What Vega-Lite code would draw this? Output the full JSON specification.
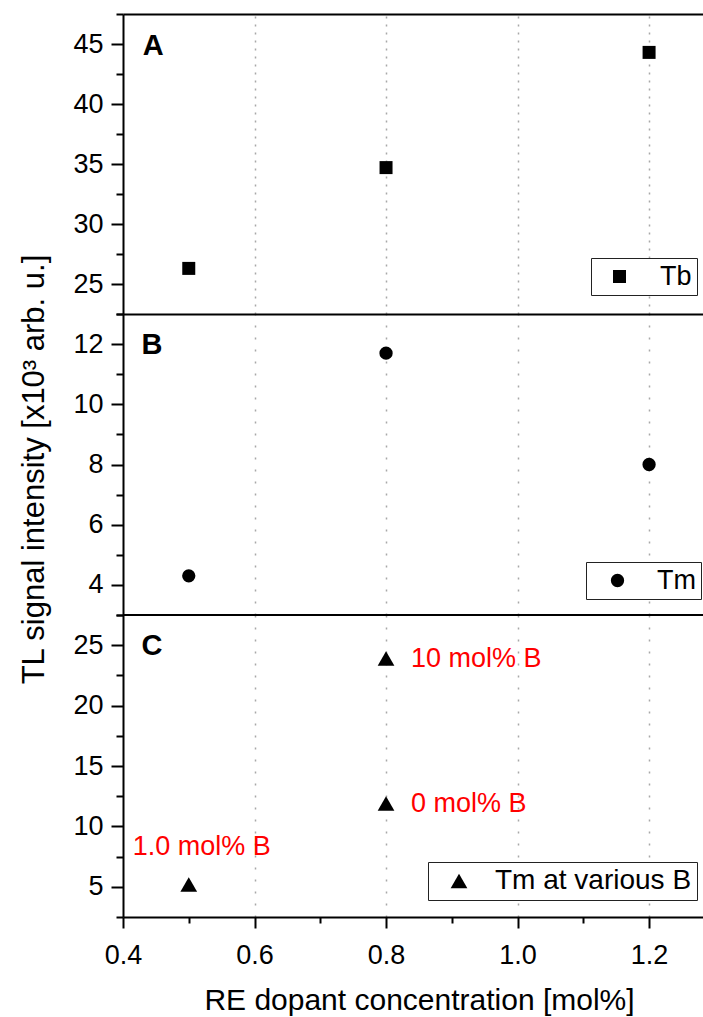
{
  "$schema": "https://vega.github.io/schema/vega-lite/v6.json",
  "padding": {"left": 18, "top": 0, "right": 0, "bottom": 4},
  "background": "white",
  "config": {
    "font": "Liberation Sans",
    "view": {"stroke": null},
    "axis": {
      "domainColor": "black",
      "domainWidth": 2,
      "tickColor": "black",
      "tickWidth": 2,
      "labelColor": "black",
      "labelFontSize": 27,
      "labelFont": "Liberation Sans",
      "labelOverlap": false,
      "labelFlush": false,
      "titleColor": "black",
      "titleFontWeight": "normal",
      "titleFont": "Liberation Sans",
      "gridColor": "#a8a8a8",
      "gridWidth": 1.5
    },
    "legend": {
      "orient": "none",
      "strokeColor": "#222222",
      "fillColor": "white",
      "padding": 5,
      "cornerRadius": 0,
      "labelFontSize": 27,
      "labelLimit": 0,
      "labelColor": "black",
      "labelFont": "Liberation Sans",
      "symbolFillColor": "black",
      "symbolStrokeWidth": 0,
      "symbolStrokeColor": "black"
    }
  },
  "datasets": {
    "pts": [
      {"panel": "A", "series": "Tb", "re": 0.5, "tl": 26.3},
      {"panel": "A", "series": "Tb", "re": 0.8, "tl": 34.7},
      {"panel": "A", "series": "Tb", "re": 1.2, "tl": 44.3},
      {"panel": "B", "series": "Tm", "re": 0.5, "tl": 4.3},
      {"panel": "B", "series": "Tm", "re": 0.8, "tl": 11.7},
      {"panel": "B", "series": "Tm", "re": 1.2, "tl": 8.0},
      {"panel": "C", "series": "Tm at various B", "re": 0.5, "tl": 5.2, "label": "1.0 mol% B"},
      {"panel": "C", "series": "Tm at various B", "re": 0.8, "tl": 23.9, "label": "10 mol% B"},
      {"panel": "C", "series": "Tm at various B", "re": 0.8, "tl": 11.9, "label": "0 mol% B"}
    ]
  },
  "spacing": 0,
  "bounds": "flush",
  "resolve": {
    "scale": {"x": "independent", "y": "independent", "shape": "independent"},
    "legend": {"shape": "independent"}
  },
  "vconcat": [
    {
      "width": 580,
      "height": 300,
      "layer": [
        {
          "data": {"name": "pts"},
          "transform": [{"filter": "datum.panel === 'A'"}],
          "mark": {"type": "point", "filled": true, "opacity": 1, "color": "black", "size": 169, "strokeWidth": 0},
          "encoding": {
            "x": {
              "field": "re", "type": "quantitative",
              "scale": {"domain": [0.4, 1.282], "nice": false, "zero": false},
              "axis": {"orient": "top", "title": null, "ticks": false, "labels": false, "tickCount": 20, "values": [0.6, 0.8, 1.0, 1.2], "grid": true, "gridDash": [2, 6]}
            },
            "y": {
              "field": "tl", "type": "quantitative",
              "scale": {"domain": [22.5, 47.5], "nice": false, "zero": false},
              "axis": {
                "title": null,
                "grid": false,
                "tickCount": 40,
                "format": "d",
                "values": [22.5, 25, 27.5, 30, 32.5, 35, 37.5, 40, 42.5, 45, 47.5],
                "labelExpr": "datum.value % 5 === 0 ? datum.label : ''",
                "tickSize": {"condition": {"test": "datum.value % 5 === 0", "value": 12}, "value": 7},
                "labelPadding": 8
              }
            },
            "shape": {
              "field": "series", "type": "nominal",
              "scale": {"range": ["square"]},
              "legend": {"title": null, "legendX": 468, "legendY": 244, "symbolSize": 169, "symbolOffset": 10, "labelOffset": 27}
            }
          }
        },
        {
          "data": {"values": [{"letter": "A"}]},
          "mark": {"type": "text", "align": "left", "baseline": "middle", "fontSize": 29, "fontWeight": "bold", "color": "black"},
          "encoding": {"x": {"datum": 0.43}, "y": {"datum": 44.85}, "text": {"field": "letter"}}
        }
      ]
    },
    {
      "width": 580,
      "height": 301,
      "layer": [
        {
          "data": {"name": "pts"},
          "transform": [{"filter": "datum.panel === 'B'"}],
          "mark": {"type": "point", "shape": "circle", "filled": true, "opacity": 1, "color": "black", "size": 177, "strokeWidth": 0},
          "encoding": {
            "x": {
              "field": "re", "type": "quantitative",
              "scale": {"domain": [0.4, 1.282], "nice": false, "zero": false},
              "axis": {"orient": "top", "title": null, "ticks": false, "labels": false, "tickCount": 20, "values": [0.6, 0.8, 1.0, 1.2], "grid": true, "gridDash": [2, 10]}
            },
            "y": {
              "field": "tl", "type": "quantitative",
              "scale": {"domain": [3, 13], "nice": false, "zero": false},
              "axis": {
                "title": "TL signal intensity [x10³ arb. u.]",
                "titleFontSize": 31,
                "titlePadding": 22,
                "titleY": 155,
                "grid": false,
                "tickCount": 40,
                "format": "d",
                "values": [3, 4, 5, 6, 7, 8, 9, 10, 11, 12, 13],
                "labelExpr": "datum.value % 2 === 0 ? datum.label : ''",
                "tickSize": {"condition": {"test": "datum.value % 2 === 0", "value": 12}, "value": 7},
                "labelPadding": 8
              }
            },
            "shape": {
              "field": "series", "type": "nominal",
              "scale": {"range": ["circle"]},
              "legend": {"title": null, "legendX": 463, "legendY": 248, "symbolSize": 177, "symbolOffset": 13, "labelOffset": 26}
            }
          }
        },
        {
          "data": {"values": [{"letter": "B"}]},
          "mark": {"type": "text", "align": "left", "baseline": "middle", "fontSize": 29, "fontWeight": "bold", "color": "black"},
          "encoding": {"x": {"datum": 0.428}, "y": {"datum": 11.98}, "text": {"field": "letter"}}
        }
      ]
    },
    {
      "width": 580,
      "height": 302,
      "layer": [
        {
          "data": {"values": [{"edge": "top"}]},
          "mark": {"type": "rule", "color": "black", "strokeWidth": 2},
          "encoding": {"y": {"datum": 27.5}}
        },
        {
          "data": {"name": "pts"},
          "transform": [{"filter": "datum.panel === 'C'"}],
          "mark": {"type": "point", "filled": true, "opacity": 1, "color": "black", "size": 280, "strokeWidth": 0},
          "encoding": {
            "x": {
              "field": "re", "type": "quantitative",
              "scale": {"domain": [0.4, 1.282], "nice": false, "zero": false},
              "axis": {
                "orient": "bottom",
                "title": "RE dopant concentration [mol%]",
                "titleFontSize": 30,
                "titlePadding": 17,
                "titleX": 296,
                "tickCount": 40,
                "values": [0.4, 0.5, 0.6, 0.7, 0.8, 0.9, 1.0, 1.1, 1.2],
                "format": ".1f",
                "labelExpr": "round(datum.value * 10) % 2 === 0 ? datum.label : ''",
                "tickSize": {"condition": {"test": "round(datum.value * 10) % 2 === 0", "value": 11}, "value": 6},
                "labelPadding": 14,
                "grid": true,
                "gridDash": [2, 10],
                "gridOpacity": {"condition": {"test": "round(datum.value * 10) % 2 === 0 && datum.value > 0.5", "value": 1}, "value": 0}
              }
            },
            "y": {
              "field": "tl", "type": "quantitative",
              "scale": {"domain": [2.5, 27.5], "nice": false, "zero": false},
              "axis": {
                "title": null,
                "grid": false,
                "tickCount": 40,
                "format": "d",
                "values": [2.5, 5, 7.5, 10, 12.5, 15, 17.5, 20, 22.5, 25, 27.5],
                "labelExpr": "datum.value % 5 === 0 ? datum.label : ''",
                "tickSize": {"condition": {"test": "datum.value % 5 === 0", "value": 12}, "value": 7},
                "labelPadding": 8
              }
            },
            "shape": {
              "field": "series", "type": "nominal",
              "scale": {"range": ["triangle-up"]},
              "legend": {"title": null, "legendX": 305, "legendY": 247, "symbolSize": 280, "symbolOffset": 12, "labelOffset": 22, "labelFontSize": 28}
            }
          }
        },
        {
          "data": {"name": "pts"},
          "transform": [{"filter": "datum.panel === 'C' && datum.re > 0.6"}],
          "mark": {"type": "text", "align": "left", "baseline": "middle", "dx": 25, "dy": 1, "fontSize": 27, "color": "#ff0000"},
          "encoding": {
            "x": {"field": "re", "type": "quantitative"},
            "y": {"field": "tl", "type": "quantitative"},
            "text": {"field": "label"}
          }
        },
        {
          "data": {"name": "pts"},
          "transform": [{"filter": "datum.panel === 'C' && datum.re < 0.6"}],
          "mark": {"type": "text", "align": "center", "baseline": "middle", "dx": 13, "dy": -37, "fontSize": 27, "color": "#ff0000"},
          "encoding": {
            "x": {"field": "re", "type": "quantitative"},
            "y": {"field": "tl", "type": "quantitative"},
            "text": {"field": "label"}
          }
        },
        {
          "data": {"values": [{"letter": "C"}]},
          "mark": {"type": "text", "align": "left", "baseline": "middle", "fontSize": 29, "fontWeight": "bold", "color": "black"},
          "encoding": {"x": {"datum": 0.428}, "y": {"datum": 24.9}, "text": {"field": "letter"}}
        }
      ]
    }
  ]
}
